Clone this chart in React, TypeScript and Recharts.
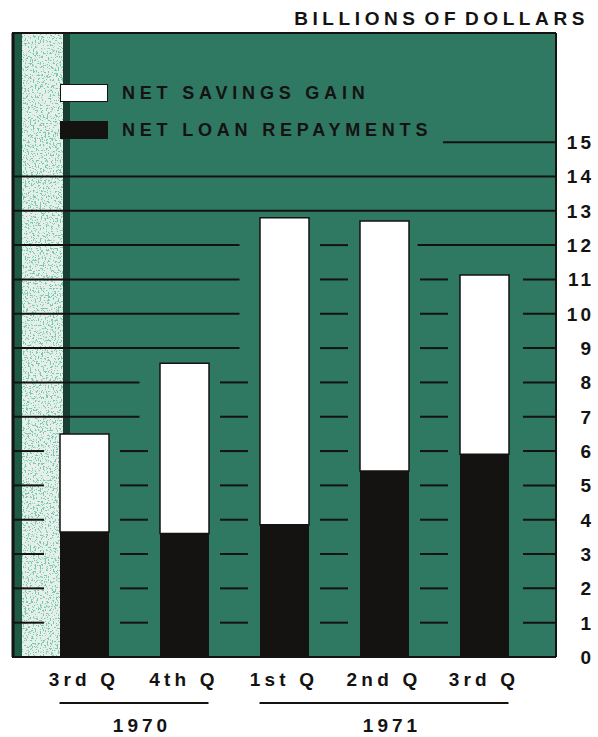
import React from 'react';
import { BarChart, Bar, XAxis, YAxis, CartesianGrid, Legend } from 'recharts';

const categories = ['3rd Q', '4th Q', '1st Q', '2nd Q', '3rd Q'];
const years = ['1970', '1970', '1971', '1971', '1971'];
const netLoanRepayments = [3.64, 3.6, 3.85, 5.42, 5.91];
const netSavingsGain = [2.86, 4.96, 8.95, 7.28, 5.22];
const yTicks = [0, 1, 2, 3, 4, 5, 6, 7, 8, 9, 10, 11, 12, 13, 14, 15];
const legendLabels = ['NET SAVINGS GAIN', 'NET LOAN REPAYMENTS'];
const title = 'BILLIONS OF DOLLARS';

const data = categories.map((c, i) => ({
  id: `q${i}`,
  label: c,
  year: years[i],
  loan: netLoanRepayments[i],
  savings: netSavingsGain[i],
}));
const totals = netLoanRepayments.map((v, i) => v + netSavingsGain[i]);

const W = 598;
const H = 737;
const XH = 80;
const M = { top: 33, right: 0, bottom: 0, left: 12 };
const YW = 42;
const PAD = 22;
const BAR = 49;
const DOMAIN_MAX = 18.18;
const FONT = '"Liberation Sans", Arial, Helvetica, sans-serif';
const GREEN = '#2f7862';
const INK = '#151212';
const LEGEND_BOTTOM_Y = 150;
const LEGEND_RIGHT_X = 443;

const plotLeft = M.left;
const plotRight = W - M.right - YW;
const plotTop = M.top;
const plotBottom = H - M.bottom - XH;
const plotH = plotBottom - plotTop;
const band = (plotRight - plotLeft - 2 * PAD) / categories.length;

const GridLine = (props: any) => {
  const { x1, x2, y1, index } = props;
  const n = categories.length;
  const v = Math.round((DOMAIN_MAX * (plotBottom - y1)) / plotH);
  const centers = categories.map((_, i) => x1 + PAD + band * (i + 0.5));
  const L = centers.map((c) => c - BAR / 2);
  const R = centers.map((c) => c + BAR / 2);
  const covered = totals.map((t) => t > v);
  const segs: [number, number][] = [];
  if (v <= 0) {
    segs.push([x1, x2]);
  } else {
    let i = 0;
    while (i < n) {
      if (!covered[i]) {
        let j = i;
        while (j + 1 < n && !covered[j + 1]) j++;
        let s = i === 0 ? x1 : R[i - 1] + 9;
        const e = j === n - 1 ? x2 : L[j + 1] - 20;
        if (y1 < LEGEND_BOTTOM_Y) s = Math.max(s, LEGEND_RIGHT_X);
        segs.push([s, e]);
        i = j + 1;
      } else {
        i++;
      }
    }
    if (covered[0]) segs.push([x1, x1 + 32]);
    if (covered[n - 1]) segs.push([x2 - 33, x2]);
    for (let g = 1; g < n; g++) {
      if (covered[g - 1] && covered[g]) {
        const mid = (R[g - 1] + L[g]) / 2;
        segs.push([mid - 14, mid + 14]);
      }
    }
  }
  return (
    <g key={`gl-${index}`}>
      {index === 0 && (
        <g>
          <defs>
            <filter id="speck" x="0" y="0" width="100%" height="100%">
              <feTurbulence type="fractalNoise" baseFrequency="0.6" numOctaves="2" seed="9" result="noise" />
              <feColorMatrix
                in="noise"
                type="matrix"
                values="0 0 0 0 0.2  0 0 0 0 0.58  0 0 0 0 0.44  0 0 0 -20 8.6"
                result="dots"
              />
              <feComposite in="dots" in2="SourceGraphic" operator="atop" />
            </filter>
          </defs>
          <rect x={x1} y={plotTop} width={10} height={plotH} fill="#1f5a44" />
          <rect x={x1 + 10} y={plotTop} width={41} height={plotH} fill="#e6f0eb" filter="url(#speck)" />
          <rect x={x1 + 51} y={plotTop} width={7} height={plotH} fill="#173f31" />
          <line x1={x1} x2={x2} y1={plotTop} y2={plotTop} stroke={INK} strokeWidth={2} />
          <line x1={x2} x2={x2} y1={plotTop} y2={plotBottom} stroke={INK} strokeWidth={2} />
          <line x1={x1 + 1} x2={x1 + 1} y1={plotTop} y2={plotBottom} stroke={INK} strokeWidth={3} />
        </g>
      )}
      {segs.map(([s, e], k) => (
        <line key={k} x1={s} x2={e} y1={y1} y2={y1} stroke={INK} strokeWidth={2} />
      ))}
    </g>
  );
};

const XTick = (props: any) => {
  const { x, payload, index } = props;
  const y = plotBottom;
  const i = typeof payload?.index === 'number' ? payload.index : index;
  const first = i === 0 || years[i] !== years[i - 1];
  let count = 0;
  if (first) {
    let j = i;
    while (j < years.length && years[j] === years[i]) {
      count++;
      j++;
    }
  }
  const ls = x - BAR / 2;
  const le = x + band * (count - 1) + BAR / 2;
  return (
    <g>
      <text
        x={x}
        y={y + 29}
        textAnchor="middle"
        fontFamily={FONT}
        fontWeight={700}
        fontSize={19}
        letterSpacing={4.2}
        fill={INK}
      >
        {categories[i]}
      </text>
      {first && (
        <g>
          <line x1={ls} x2={le} y1={y + 46} y2={y + 46} stroke={INK} strokeWidth={2} />
          <text
            x={(ls + le) / 2 + 8}
            y={y + 75}
            textAnchor="middle"
            fontFamily={FONT}
            fontWeight={700}
            fontSize={19}
            letterSpacing={4}
            fill={INK}
          >
            {years[i]}
          </text>
        </g>
      )}
    </g>
  );
};

const YTick = (props: any) => {
  const { y, payload } = props;
  return (
    <text
      x={W - 4}
      y={y + 7}
      textAnchor="end"
      fontFamily={FONT}
      fontWeight={700}
      fontSize={19}
      letterSpacing={3}
      fill={INK}
    >
      {payload.value}
    </text>
  );
};

const LegendContent = () => (
  <div style={{ fontFamily: FONT, fontSize: 18, letterSpacing: 4.8, color: INK, fontWeight: 700 }}>
    <div style={{ display: 'flex', alignItems: 'center', height: 18, marginBottom: 19 }}>
      <div style={{ width: 46, height: 16, background: '#fff', border: `1px solid ${INK}`, marginRight: 14 }} />
      <span style={{ lineHeight: '18px' }}>{legendLabels[0]}</span>
    </div>
    <div style={{ display: 'flex', alignItems: 'center', height: 18 }}>
      <div style={{ width: 48, height: 18, background: INK, marginRight: 14 }} />
      <span style={{ lineHeight: '18px' }}>{legendLabels[1]}</span>
    </div>
  </div>
);

export default function App() {
  return (
    <div style={{ position: 'absolute', left: 0, top: 0, width: W, height: H, background: '#fff' }}>
      <div
        style={{
          position: 'absolute',
          right: 9,
          top: 8,
          fontFamily: FONT,
          fontWeight: 700,
          fontSize: 19,
          letterSpacing: 4.6,
          wordSpacing: -5,
          color: INK,
          whiteSpace: 'nowrap',
          zIndex: 2,
        }}
      >
        {title}
      </div>
      <BarChart width={W} height={H} data={data} margin={M} barCategoryGap={0}>
        <CartesianGrid
          vertical={false}
          horizontal={GridLine}
          fill={GREEN}
          fillOpacity={1}
          stroke={INK}
        />
        <XAxis
          dataKey="id"
          axisLine={false}
          tickLine={false}
          padding={{ left: PAD, right: PAD }}
          tick={<XTick />}
          interval={0}
          height={XH}
        />
        <YAxis
          orientation="right"
          width={YW}
          domain={[0, DOMAIN_MAX]}
          ticks={yTicks}
          axisLine={false}
          tickLine={false}
          tick={<YTick />}
          interval={0}
        />
        <Legend
          layout="horizontal"
          align="center"
          verticalAlign="middle"
          content={<LegendContent />}
          wrapperStyle={{ position: 'absolute', top: 84, left: 60, width: 460, height: 60 }}
        />
        <Bar dataKey="loan" stackId="a" fill={INK} barSize={BAR} isAnimationActive={false} />
        <Bar
          dataKey="savings"
          stackId="a"
          fill="#ffffff"
          stroke={INK}
          strokeWidth={1.5}
          barSize={BAR}
          isAnimationActive={false}
        />
      </BarChart>
    </div>
  );
}
